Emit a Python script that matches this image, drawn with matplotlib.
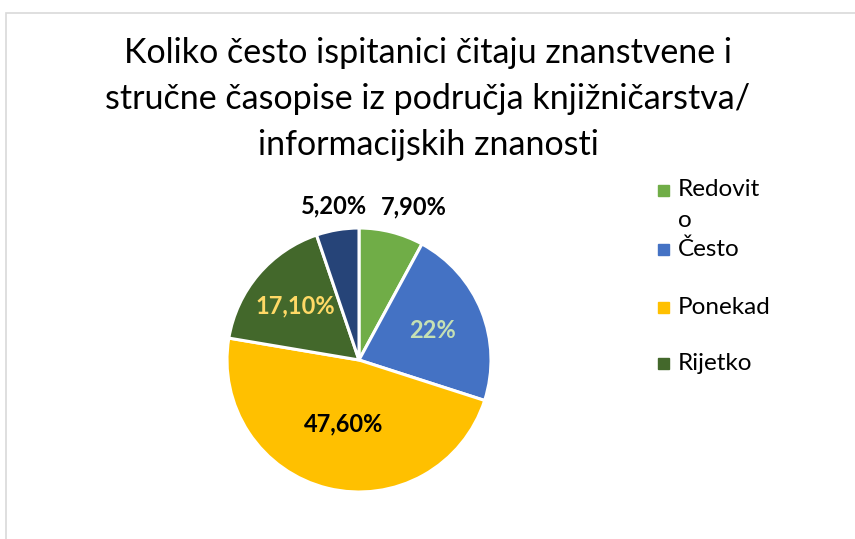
import matplotlib
matplotlib.use("Agg")
import matplotlib.pyplot as plt
import matplotlib.patches as mpatches
import numpy as np

categories = ["Redovito", "Često", "Ponekad", "Rijetko", "Nikad"]
values = [7.9, 22.0, 47.6, 17.1, 5.2]
value_labels = ["7,90%", "22%", "47,60%", "17,10%", "5,20%"]
legend_labels = ["Redovit\no", "Često", "Ponekad", "Rijetko"]
colors = ["#70AD47", "#4472C4", "#FFC000", "#43682B", "#264478"]
label_colors = ["#000000", "#C5E0B4", "#000000", "#FFD966", "#000000"]
label_dist = [1.2, 0.6, 0.5, 0.63, 1.18]
label_nudge = [0.12, 0.0, 0.0, 0.0, 0.0]

title = "Koliko često ispitanici čitaju znanstvene i\nstručne časopise iz područja knjižničarstva/\ninformacijskih znanosti"

W, H = 855, 539
fig = plt.figure(figsize=(W / 100, H / 100), dpi=100)
plt.rcParams['font.family'] = ['Lato', 'DejaVu Sans']

# chart frame (partially visible)
fig.patches.append(mpatches.Rectangle((6 / W, -0.1), 1.2, (H - 13) / H + 0.1,
                                      transform=fig.transFigure, fill=False,
                                      edgecolor="#D9D9D9", linewidth=1.2))

cx, cy, r = 359, H - 360, 132
ax = fig.add_axes([(cx - r) / W, (cy - r) / H, 2 * r / W, 2 * r / H])
wedges, _ = ax.pie(values, colors=colors, startangle=90, counterclock=False,
                   wedgeprops=dict(edgecolor="white", linewidth=2.2))
ax.set_xlim(-1, 1)
ax.set_ylim(-1, 1)
ax.set_aspect("equal")
ax.axis("off")

for w, lab, col, d, nx in zip(wedges, value_labels, label_colors, label_dist, label_nudge):
    ang = np.deg2rad((w.theta1 + w.theta2) / 2)
    ax.text(d * np.cos(ang) + nx, d * np.sin(ang), lab, ha="center", va="center",
            fontsize=17, fontweight="bold", color=col, clip_on=False)

fig.text(428 / W, 1 - 99 / H, title, ha="center", va="center", fontsize=24.5,
         color="#000000", linespacing=1.55)

ys = [190, 249, 307, 363]
for lab, col, y in zip(legend_labels, colors[:4], ys):
    fig.patches.append(mpatches.Rectangle((658 / W, 1 - (y + 5.5) / H), 11 / W, 11 / H,
                                          transform=fig.transFigure, color=col))
    if "\n" in lab:
        fig.text(678 / W, 1 - (y - 11) / H, lab, ha="left", va="top",
                 fontsize=17.5, color="#000000", linespacing=1.6)
    else:
        fig.text(678 / W, 1 - y / H, lab, ha="left", va="center",
                 fontsize=17.5, color="#000000")

fig.savefig("out.png", dpi=100)
